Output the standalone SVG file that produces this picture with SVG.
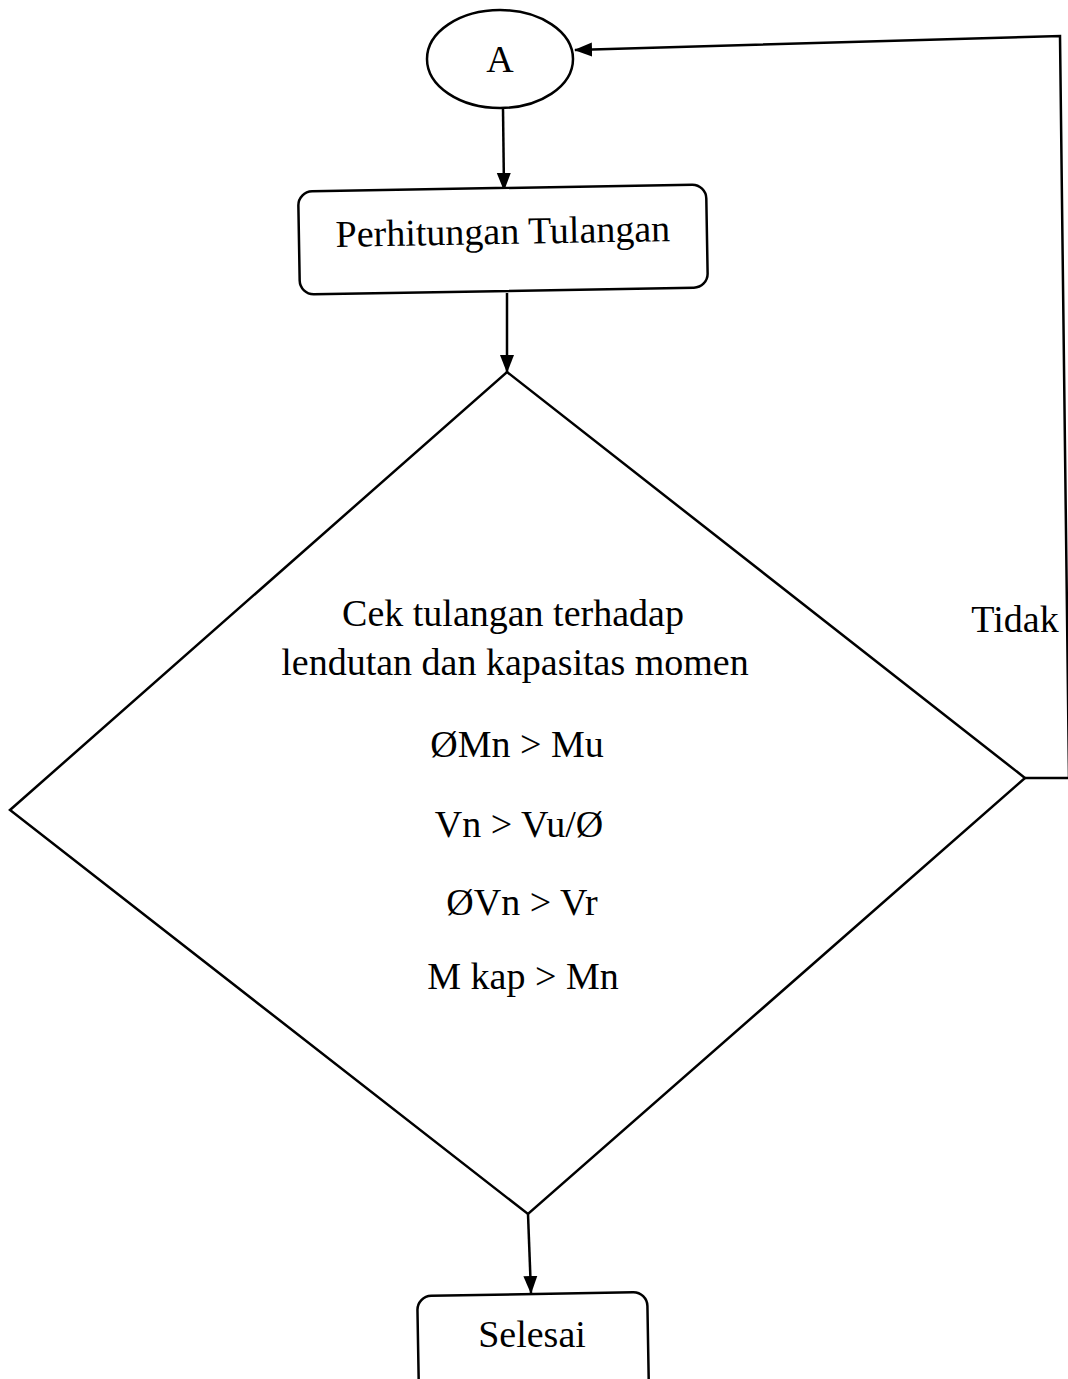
<svg xmlns="http://www.w3.org/2000/svg" width="1068" height="1379" viewBox="0 0 1068 1379">
<style>
.s{fill:#fff;stroke:#000;stroke-width:2.5}
.t{font-family:"Liberation Serif","Times New Roman",serif;font-size:38px;fill:#000;text-anchor:middle}
.c{fill:none;stroke:#000;stroke-width:2.5}
</style>
<defs>
<marker id="ah" markerWidth="18" markerHeight="16" refX="17" refY="8" orient="auto" markerUnits="userSpaceOnUse" viewBox="0 0 18 16">
<path d="M0,1 L18,8 L0,15 z" fill="#000"/>
</marker>
</defs>
<rect width="1068" height="1379" fill="#fff"/>
<g id="connectors">
<path class="c" d="M503,109 L504,190" marker-end="url(#ah)"/>
<path class="c" d="M507,293 L507,372" marker-end="url(#ah)"/>
<path class="c" d="M528,1214 L531,1293" marker-end="url(#ah)"/>
<path class="c" d="M1025,778 L1069,778 L1060,36 L575,50" marker-end="url(#ah)"/>
</g>
<g id="nodeA">
<ellipse class="s" cx="500" cy="59" rx="73" ry="49"/>
<text class="t" x="500" y="72">A</text>
</g>
<g id="nodePerhitungan">
<rect class="s" x="299" y="188" width="408" height="103" rx="14" transform="rotate(-1 503 240)"/>
<text class="t" x="503" y="244" transform="rotate(-1 503 240)">Perhitungan Tulangan</text>
</g>
<g id="nodeCek">
<polygon class="s" points="507,372 1025,778 528,1214 10,810"/>
<text class="t" x="513" y="626">Cek tulangan terhadap</text>
<text class="t" x="515" y="675">lendutan dan kapasitas momen</text>
<text class="t" x="517" y="757">ØMn &gt; Mu</text>
<text class="t" x="519" y="837">Vn &gt; Vu/Ø</text>
<text class="t" x="522" y="915">ØVn &gt; Vr</text>
<text class="t" x="523" y="989">M kap &gt; Mn</text>
</g>
<g id="labelTidak">
<text class="t" x="1015" y="632">Tidak</text>
</g>
<g id="nodeSelesai">
<rect class="s" x="418" y="1294" width="230" height="110" rx="14" transform="rotate(-1 533 1340)"/>
<text class="t" x="532" y="1347">Selesai</text>
</g>
</svg>
